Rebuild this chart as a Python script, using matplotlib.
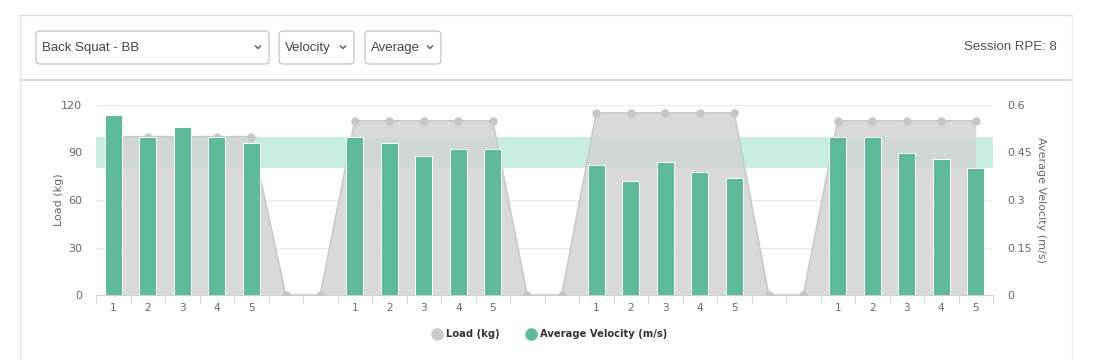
import numpy as np
import matplotlib
matplotlib.use('Agg')
import matplotlib.pyplot as plt
from matplotlib.patches import FancyBboxPatch
from matplotlib.lines import Line2D

# rep labels along the x axis (two empty slots between sets)
rep_labels = ['1', '2', '3', '4', '5', '', '',
              '1', '2', '3', '4', '5', '', '',
              '1', '2', '3', '4', '5', '', '',
              '1', '2', '3', '4', '5']
load_kg = [100, 100, 100, 100, 100, 0, 0,
           110, 110, 110, 110, 110, 0, 0,
           115, 115, 115, 115, 115, 0, 0,
           110, 110, 110, 110, 110]
avg_velocity = [0.57, 0.50, 0.53, 0.50, 0.48, None, None,
                0.50, 0.48, 0.44, 0.46, 0.46, None, None,
                0.41, 0.36, 0.42, 0.39, 0.37, None, None,
                0.50, 0.50, 0.45, 0.43, 0.40]
target_band = [0.40, 0.50]
load_ticks = [0, 30, 60, 90, 120]
vel_ticks = [0, 0.15, 0.3, 0.45, 0.6]
vel_tick_labels = ['0', '0.15', '0.3', '0.45', '0.6']

dropdowns = ['Back Squat - BB', 'Velocity', 'Average']
session_rpe = 'Session RPE: 8'

W, H = 1095, 360
fig = plt.figure(figsize=(W / 100, H / 100), dpi=100)
fig.patch.set_facecolor('white')
tr = fig.dpi_scale_trans


def px(x, y):
    return x / 100, (H - y) / 100


def hline(x0, x1, y, color='#dcdcdc', lw=1.0):
    a, b = px(x0, y)
    c, _ = px(x1, y)
    fig.add_artist(Line2D([a, c], [b, b], transform=tr, color=color, lw=lw))


def vline(x, y0, y1, color='#e6e6e6', lw=1.0):
    a, b = px(x, y0)
    _, d = px(x, y1)
    fig.add_artist(Line2D([a, a], [b, d], transform=tr, color=color, lw=lw))


# card borders
hline(20, 1072, 15)
hline(20, 1072, 80, color='#d6d6d6', lw=1.3)
vline(20, 15, 360)
vline(1072, 15, 360, color='#ececec')

# dropdowns
boxes = [(36, 269), (279, 354), (365, 441)]
for (x0, x1), label in zip(boxes, dropdowns):
    bx, by = px(x0, 64)
    fig.add_artist(FancyBboxPatch((bx, by), (x1 - x0) / 100, 0.33,
                                  boxstyle='round,pad=0,rounding_size=0.04',
                                  transform=tr, facecolor='white',
                                  edgecolor='#c4c4c4', lw=0.9))
    tx, ty = px(x0 + 6, 47.5)
    fig.text(tx, ty, label, transform=tr, fontsize=9.5, color='#444444',
             family='Liberation Sans', va='center', ha='left')
    cx = x1 - 11
    xs = [cx - 2.5, cx, cx + 2.5]
    ys = [46, 48.5, 46]
    fig.add_artist(Line2D([x / 100 for x in xs], [(H - y) / 100 for y in ys],
                          transform=tr, color='#555555', lw=1.0))

sx, sy = px(1057, 47.5)
fig.text(sx, sy, session_rpe, transform=tr, fontsize=9.5, color='#505050',
         family='Liberation Sans', va='center', ha='right')

# chart
ax = fig.add_axes([96 / W, 1 - 295 / H, 897 / W, 190 / H])
x = np.arange(len(rep_labels))
scale = load_ticks[-1] / vel_ticks[-1]

ax.axhspan(target_band[0] * scale, target_band[1] * scale,
           color='#c8eee0', lw=0, zorder=1)
ax.fill_between(x, 0, load_kg, color='#d3d3d3', alpha=0.85, lw=0, zorder=2)
ax.plot(x, load_kg, color='#c9c9c9', lw=1.2, marker='o', ms=5,
        mfc='#c6c6c6', mec='#c6c6c6', zorder=3)

ax.set_xlim(-0.5, len(rep_labels) - 0.5)
ax.set_ylim(0, load_ticks[-1])
ax.set_yticks(load_ticks)
ax.set_yticklabels([str(t) for t in load_ticks])
ax.grid(axis='y', color='#e8e8e8', lw=0.8, zorder=0)
ax.set_axisbelow(True)
for s in ['top', 'right', 'left']:
    ax.spines[s].set_visible(False)
ax.spines['bottom'].set_color('#d0d0d0')
ax.set_xticks(x)
ax.set_xticklabels(rep_labels)
ax.set_xticks(np.arange(-0.5, len(rep_labels)), minor=True)
ax.tick_params(axis='x', which='major', length=0, pad=6, labelsize=7.5,
               labelcolor='#666666')
ax.tick_params(axis='x', which='minor', length=6, color='#d0d0d0')
ax.tick_params(axis='y', length=0, pad=10, labelsize=8, labelcolor='#666666')
ax.set_ylabel('Load (kg)', fontsize=8, color='#666666', labelpad=-2)

ax2 = ax.twinx()
vx = [i for i, v in enumerate(avg_velocity) if v is not None]
vy = [v for v in avg_velocity if v is not None]
ax2.bar(vx, vy, width=0.5, color='#5fba9c', edgecolor='white', lw=0.7,
        zorder=3)
ax2.set_ylim(0, vel_ticks[-1])
ax2.set_yticks(vel_ticks)
ax2.set_yticklabels(vel_tick_labels)
for s in ['top', 'right', 'left', 'bottom']:
    ax2.spines[s].set_visible(False)
ax2.tick_params(axis='y', length=0, pad=10, labelsize=8, labelcolor='#666666')
ax2.set_ylabel('Average Velocity (m/s)', fontsize=8, color='#666666',
               rotation=270, labelpad=10)

handles = [Line2D([], [], ls='none', marker='o', ms=8, mfc='#cccccc', mec='#cccccc'),
           Line2D([], [], ls='none', marker='o', ms=8, mfc='#5fba9c', mec='#5fba9c')]
fig.legend(handles, ['Load (kg)', 'Average Velocity (m/s)'], loc='center',
           bbox_to_anchor=(549 / W, 1 - 334 / H), ncol=2, frameon=False,
           prop={'weight': 'bold', 'size': 7.2}, labelcolor='#333333',
           handletextpad=0.3, columnspacing=2.6, handlelength=1.2)

fig.savefig('out.png', dpi=100, facecolor='white')
